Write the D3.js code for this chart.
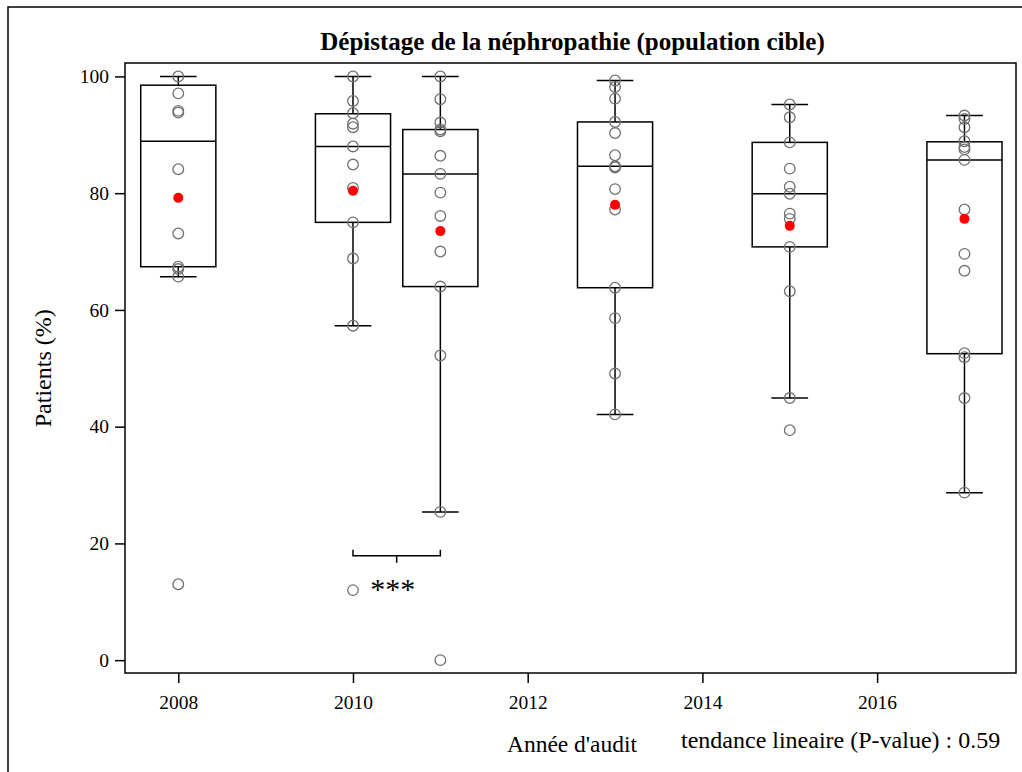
<!DOCTYPE html>
<html>
<head>
<meta charset="utf-8">
<script src="https://cdn.jsdelivr.net/npm/d3@7"></script>
<style>
  body { margin: 0; background: #fff; }
  svg text { font-family: "Liberation Serif", "DejaVu Serif", serif; }
</style>
</head>
<body>
<script>
// Années et valeurs
const years = [2008, 2010, 2011, 2013, 2015, 2017];
const xTicks = [2008, 2010, 2012, 2014, 2016];
const yTicks = [0, 20, 40, 60, 80, 100];

// statistiques des boîtes
const whiskerLow  = [65.7, 57.3, 25.4, 42.1, 44.9, 28.7];
const q1          = [67.4, 75.0, 64.0, 63.8, 70.8, 52.5];
const medians     = [88.9, 88.0, 83.3, 84.6, 79.9, 85.7];
const q3          = [98.5, 93.6, 90.9, 92.2, 88.7, 88.8];
const whiskerHigh = [100, 100, 100, 99.3, 95.2, 93.3];
const means       = [79.2, 80.4, 73.5, 78.0, 74.4, 75.6];

// valeurs individuelles (centres)
const pts2008 = [100, 97.1, 94.1, 93.8, 84.1, 73.1, 67.4, 67.0, 65.7, 13.0];
const pts2010 = [100, 95.8, 93.7, 91.9, 91.3, 88.0, 84.9, 80.9, 75.0, 68.8, 57.3, 12.0];
const pts2011 = [100, 96.1, 92.1, 90.9, 90.6, 86.4, 83.3, 80.1, 76.1, 70.0, 64.0, 52.2, 25.4, 0];
const pts2013 = [99.3, 98.2, 96.2, 92.2, 90.3, 86.5, 84.6, 84.4, 80.7, 77.2, 63.8, 58.6, 49.1, 42.1];
const pts2015 = [95.2, 93.0, 88.7, 84.2, 81.1, 79.9, 76.5, 75.6, 70.8, 63.2, 44.9, 39.4];
const pts2017 = [93.3, 92.7, 91.3, 88.9, 87.9, 87.5, 85.7, 77.2, 69.6, 66.7, 52.6, 51.9, 44.9, 28.7];
const points = [pts2008, pts2010, pts2011, pts2013, pts2015, pts2017];

// comparaison 2010 / 2011
const bracketYears = [2010, 2011];
const bracketValue = 17.9;

const width = 1022, height = 772;
const plot = { left: 125, right: 1016, top: 63, bottom: 673 };

const svg = d3.select('body')
    .append('svg')
    .attr('width', width)
    .attr('height', height);

// cadre extérieur
svg.append('rect')
    .attr('x', 8).attr('y', 7)
    .attr('width', 1040).attr('height', 800)
    .attr('fill', 'none')
    .attr('stroke', '#000')
    .attr('stroke-width', 1.5);

const x = d3.scaleLinear()
    .domain([2007.39, 2017.59])
    .range([plot.left, plot.right]);

const y = d3.scaleLinear()
    .domain([-2.2, 102.3])
    .range([plot.bottom, plot.top]);

const boxW = x(2008.43) - x(2008);
const capW = x(2008.21) - x(2008);

// axes
svg.append('g')
    .attr('transform', `translate(0, ${plot.bottom})`)
    .call(d3.axisBottom(x).tickValues(xTicks).tickFormat(d3.format('d')).tickSize(10).tickPadding(12))
    .call(g => g.select('.domain').remove())
    .call(g => g.selectAll('line').attr('stroke-width', 1.5))
    .call(g => g.selectAll('text').attr('font-size', 19.5).attr('fill', '#000')
        .style('font-family', '"Liberation Serif", serif'));

svg.append('g')
    .attr('transform', `translate(${plot.left}, 0)`)
    .call(d3.axisLeft(y).tickValues(yTicks).tickSize(10).tickPadding(6))
    .call(g => g.select('.domain').remove())
    .call(g => g.selectAll('line').attr('stroke-width', 1.5))
    .call(g => g.selectAll('text').attr('font-size', 19.5).attr('fill', '#000')
        .style('font-family', '"Liberation Serif", serif'));

// cadre du graphe
svg.append('rect')
    .attr('x', plot.left).attr('y', plot.top)
    .attr('width', plot.right - plot.left)
    .attr('height', plot.bottom - plot.top)
    .attr('fill', 'none')
    .attr('stroke', '#000')
    .attr('stroke-width', 1.5);

// boîtes
const boxes = svg.append('g')
    .selectAll('g')
    .data(years)
    .join('g')
    .attr('stroke', '#000')
    .attr('stroke-width', 1.5)
    .attr('fill', 'none');

boxes.append('line')
    .attr('x1', d => x(d)).attr('x2', d => x(d))
    .attr('y1', (d, i) => y(whiskerLow[i])).attr('y2', (d, i) => y(q1[i]));
boxes.append('line')
    .attr('x1', d => x(d)).attr('x2', d => x(d))
    .attr('y1', (d, i) => y(q3[i])).attr('y2', (d, i) => y(whiskerHigh[i]));
boxes.append('line')
    .attr('x1', d => x(d) - capW).attr('x2', d => x(d) + capW)
    .attr('y1', (d, i) => y(whiskerLow[i])).attr('y2', (d, i) => y(whiskerLow[i]));
boxes.append('line')
    .attr('x1', d => x(d) - capW).attr('x2', d => x(d) + capW)
    .attr('y1', (d, i) => y(whiskerHigh[i])).attr('y2', (d, i) => y(whiskerHigh[i]));
boxes.append('rect')
    .attr('x', d => x(d) - boxW)
    .attr('width', 2 * boxW)
    .attr('y', (d, i) => y(q3[i]))
    .attr('height', (d, i) => y(q1[i]) - y(q3[i]));
boxes.append('line')
    .attr('x1', d => x(d) - boxW).attr('x2', d => x(d) + boxW)
    .attr('y1', (d, i) => y(medians[i])).attr('y2', (d, i) => y(medians[i]));

// points individuels
const flat = years.flatMap((yr, i) => points[i].map(v => ({ yr, v })));
svg.append('g')
    .selectAll('circle')
    .data(flat)
    .join('circle')
    .attr('cx', d => x(d.yr))
    .attr('cy', d => y(d.v))
    .attr('r', 5.3)
    .attr('fill', 'none')
    .attr('stroke', '#707070')
    .attr('stroke-width', 1.3);

// moyennes
svg.append('g')
    .selectAll('circle')
    .data(years)
    .join('circle')
    .attr('cx', d => x(d))
    .attr('cy', (d, i) => y(means[i]))
    .attr('r', 5)
    .attr('fill', '#ff0000');

// crochet de significativité
const by = y(bracketValue);
const bx = (x(bracketYears[0]) + x(bracketYears[1])) / 2;
svg.append('path')
    .attr('d', `M${x(bracketYears[0])},${by - 6}V${by}H${x(bracketYears[1])}V${by - 6}`
        + `M${bx},${by}v7`)
    .attr('fill', 'none')
    .attr('stroke', '#000')
    .attr('stroke-width', 1.5);
svg.append('text')
    .attr('x', bx - 4)
    .attr('y', by + 43)
    .attr('text-anchor', 'middle')
    .attr('font-size', 30)
    .text('***');

// titres
svg.append('text')
    .attr('x', (plot.left + plot.right) / 2 + 2)
    .attr('y', 50)
    .attr('text-anchor', 'middle')
    .attr('font-size', 25)
    .attr('font-weight', 'bold')
    .text('Dépistage de la néphropathie (population cible)');

svg.append('text')
    .attr('transform', `translate(51, ${y(50)}) rotate(-90)`)
    .attr('text-anchor', 'middle')
    .attr('font-size', 24)
    .text('Patients (%)');

svg.append('text')
    .attr('x', 572)
    .attr('y', 752)
    .attr('text-anchor', 'middle')
    .attr('font-size', 23.5)
    .text("Année d'audit");

svg.append('text')
    .attr('x', 681)
    .attr('y', 748)
    .attr('font-size', 24)
    .text('tendance lineaire (P-value) : 0.59');
</script>
</body>
</html>
